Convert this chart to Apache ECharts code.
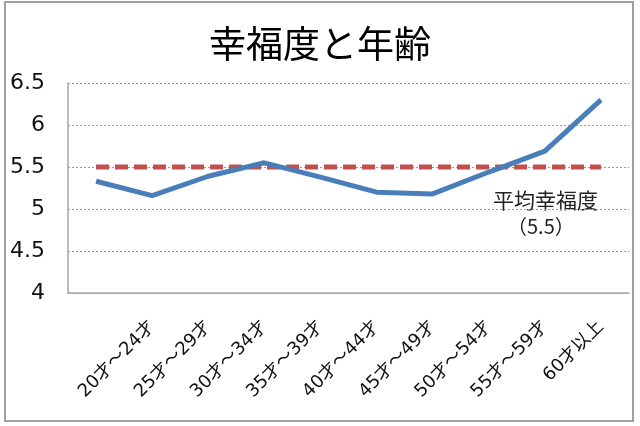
<!DOCTYPE html>
<html>
<head>
<meta charset="utf-8">
<script src="https://cdn.jsdelivr.net/npm/echarts@6/dist/echarts.min.js"></script>
<style>html,body{margin:0;padding:0;background:#fff}#c{width:640px;height:426px}</style>
</head>
<body>
<div id="c"></div>
<script>
const categories = ["", "20才～24才", "25才～29才", "30才～34才", "35才～39才", "40才～44才", "45才～49才", "50才～54才", "55才～59才", "60才以上"];
const happiness = [5.33, 5.16, 5.39, 5.55, 5.38, 5.20, 5.18, 5.44, 5.69, 6.30];
const average = [5.5, 5.5, 5.5, 5.5, 5.5, 5.5, 5.5, 5.5, 5.5, 5.5];
const yTicks = { min: 4, max: 6.5, interval: 0.5 };
const titleText = "幸福度と年齢";
const noteLines = ["平均幸福度", "（5.5）"];

const chart = echarts.init(document.getElementById('c'));
chart.setOption({
  animation: false,
  backgroundColor: '#fff',
  title: {
    text: titleText, left: 'center', top: 20,
    textStyle: { fontFamily: 'Noto Sans CJK JP', fontSize: 37, fontWeight: 'normal', color: '#000' }
  },
  grid: { left: 68, right: 11, top: 83, bottom: 133 },
  xAxis: {
    type: 'category', data: categories, boundaryGap: true,
    axisLine: { lineStyle: { color: '#a6a6a6', width: 1.5 } },
    axisTick: { show: false },
    axisLabel: {
      rotate: 45, interval: 0, margin: 31, color: '#111',
      fontFamily: 'DejaVu Sans, Noto Sans CJK JP', fontSize: 18
    }
  },
  yAxis: {
    type: 'value', min: yTicks.min, max: yTicks.max, interval: yTicks.interval,
    axisLine: { show: true, lineStyle: { color: '#a6a6a6', width: 1.5 } },
    axisTick: { show: false },
    axisLabel: { margin: 23, color: '#111', fontFamily: 'DejaVu Sans', fontSize: 22 },
    splitLine: { lineStyle: { color: '#9a9a9a', type: [2, 2], width: 1 } }
  },
  series: [
    {
      type: 'line', data: average, symbol: 'none', z: 2,
      lineStyle: { color: '#C0504D', width: 5, type: [13, 6] }
    },
    {
      type: 'line', data: happiness, symbol: 'none', z: 3,
      lineStyle: { color: '#4A7EBB', width: 5 }
    }
  ],
  graphic: [
    { type: 'rect', shape: { x: 5, y: 2, width: 628, height: 419 },
      style: { fill: 'none', stroke: '#a0a0a0', lineWidth: 2 }, silent: true },
    { type: 'text', left: 493, top: 190,
      style: { text: noteLines[0], fontFamily: 'Noto Sans CJK JP', fontSize: 21, fill: '#222' } },
    { type: 'text', left: 507, top: 216,
      style: { text: noteLines[1], fontFamily: 'Noto Sans CJK JP', fontSize: 20, fill: '#222' } }
  ]
});
</script>
</body>
</html>
